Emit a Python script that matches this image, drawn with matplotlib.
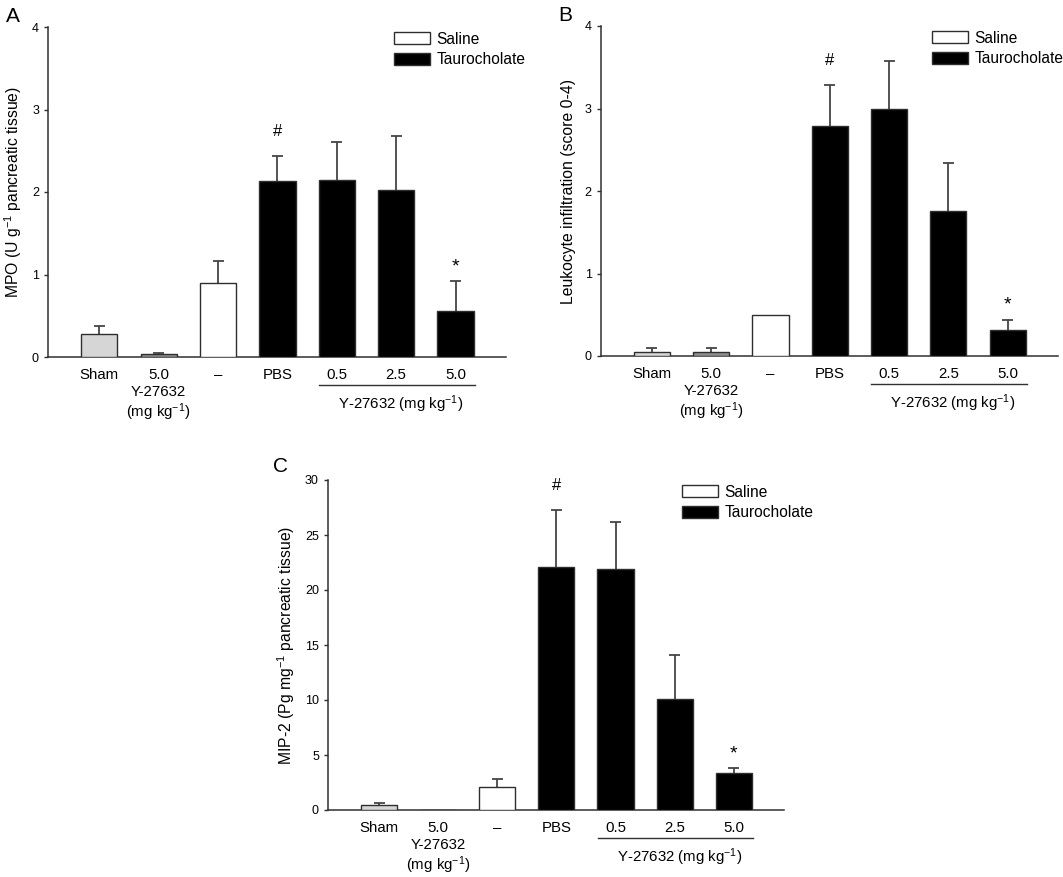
#three bar panels: MPO, leukocyte infiltration and MIP-2
import matplotlib.pyplot as plt
import matplotlib.transforms as mtransforms
from matplotlib.patches import Patch
import numpy as np

plt.rcParams['font.family'] = ['Liberation Sans', 'DejaVu Sans']
plt.rcParams['mathtext.fontset'] = 'custom'
plt.rcParams['mathtext.rm'] = 'Liberation Sans'
plt.rcParams['mathtext.default'] = 'regular'

#data (mean and upper SEM)
categories = ['Sham', '5.0', '\u2013', 'PBS', '0.5', '2.5', '5.0']
marks = ['', '', '', '#', '', '', '*']
legend_labels = ['Saline', 'Taurocholate']

mpo = [0.28, 0.04, 0.90, 2.13, 2.15, 2.02, 0.56]
mpo_sem = [0.09, 0.01, 0.26, 0.31, 0.46, 0.66, 0.36]

leuko = [0.05, 0.05, 0.50, 2.79, 2.99, 1.76, 0.32]
leuko_sem = [0.05, 0.05, 0.0, 0.50, 0.58, 0.58, 0.12]

mip2 = [0.43, 0.0, 2.06, 22.06, 21.90, 10.06, 3.40]
mip2_sem = [0.17, 0.0, 0.73, 5.24, 4.30, 4.04, 0.42]

#styles
fills = ['#d6d6d6', '#8e8e8e', 'white', 'black', 'black', 'black', 'black']
edge = '#2e2e2e'
errc = '#454545'
W, H = 1063, 877

fig = plt.figure(figsize=(W / 100, H / 100), dpi=100)


def panel(box, letter, letter_pos, vals, sem, ymax, ystep, ylabel, leg_x):
    #box = (left, axis y, right) in pixels, axes are 330 px tall
    left, base, right = box
    ax = fig.add_axes([left / W, (H - base) / H, (right - left) / W, 330 / H])
    x = np.arange(len(vals))
    ax.bar(x, vals, width=0.61, color=fills, edgecolor=edge, linewidth=1, zorder=3)
    for xi, v, e, m in zip(x, vals, sem, marks):
        if e > 0:
            #only the upper half of the error bar
            ax.vlines(xi, v, v + e, color=errc, lw=1.3, zorder=2)
            ax.hlines(v + e, xi - 0.093, xi + 0.093, color=errc, lw=1.3, zorder=2)
        if m:
            off = 20 if m == '#' else 10
            fs = 12 if m == '#' else 14
            ax.annotate(m, (xi, v + e), xytext=(0, off), textcoords='offset pixels',
                        ha='center', va='baseline', fontsize=fs)

    ax.set_xlim(-0.86, 6.85)
    ax.set_ylim(0, ymax)
    ticks = np.arange(0, ymax + ystep / 2, ystep)
    ax.set_yticks(ticks)
    ax.set_yticklabels([str(int(t)) for t in ticks])
    ax.set_xticks(x)
    ax.set_xticklabels(categories)
    for s in ['top', 'right']:
        ax.spines[s].set_visible(False)
    for s in ['left', 'bottom']:
        ax.spines[s].set_color('#303030')
        ax.spines[s].set_linewidth(1.1)
    ax.tick_params(axis='y', direction='out', length=3.2, width=1, pad=3.5,
                   labelsize=9, color='#303030')
    ax.tick_params(axis='x', length=0, pad=8.2, labelsize=10.8)
    ax.set_ylabel(ylabel, fontsize=11.3, labelpad=6)

    #extra labels under the x axis
    tr = mtransforms.blended_transform_factory(ax.transData, ax.transAxes)
    ax.text(1, -39 / 330, 'Y-27632', transform=tr, ha='center', va='baseline', fontsize=10.8)
    ax.text(1, -60 / 330, '(mg kg$^{-1}$)', transform=tr, ha='center', va='baseline', fontsize=10.8)
    ax.plot([3.7, 6.32], [-28 / 330, -28 / 330], transform=tr, color='#303030', lw=1, clip_on=False)
    ax.text(5.08, -52 / 330, 'Y-27632 (mg kg$^{-1}$)', transform=tr, ha='center',
            va='baseline', fontsize=10.8)

    handles = [Patch(facecolor='white', edgecolor=edge), Patch(facecolor='black', edgecolor=edge)]
    ax.legend(handles, legend_labels, loc='upper left', bbox_to_anchor=(leg_x, 0.986),
              frameon=False, fontsize=11.2, handlelength=2.35, handleheight=0.85,
              handletextpad=0.4, labelspacing=0.36, borderpad=0, borderaxespad=0)

    fig.text(letter_pos[0] / W, 1 - letter_pos[1] / H, letter, fontsize=15, va='baseline')
    return ax


panel((48.3, 357, 506), 'A', (6, 22), mpo, mpo_sem, 4, 1,
      'MPO (U g$^{-1}$ pancreatic tissue)', 0.755)
panel((601, 356, 1058), 'B', (558, 21), leuko, leuko_sem, 4, 1,
      'Leukocyte infiltration (score 0-4)', 0.724)
panel((328.2, 810, 784), 'C', (272.6, 472), mip2, mip2_sem, 30, 5,
      'MIP-2 (Pg mg$^{-1}$ pancreatic tissue)', 0.776)

plt.savefig('out.png', dpi=100)
